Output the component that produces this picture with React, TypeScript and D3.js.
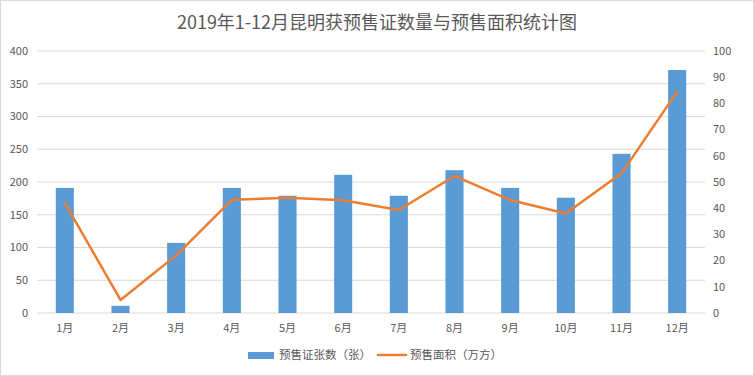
import React from "react";
import * as d3 from "d3";

const months = ["1月", "2月", "3月", "4月", "5月", "6月", "7月", "8月", "9月", "10月", "11月", "12月"];
const permits = [191, 11, 107, 191, 179, 211, 179, 218, 191, 176, 243, 371];
const areas = [42, 5, 22, 43.2, 44, 43, 39.3, 52.3, 43.1, 38, 53.3, 84.5];
const leftTicks = [0, 50, 100, 150, 200, 250, 300, 350, 400];
const rightTicks = [0, 10, 20, 30, 40, 50, 60, 70, 80, 90, 100];
const title = "2019年1-12月昆明获预售证数量与预售面积统计图";
const seriesNames = ["预售证张数（张）", "预售面积（万方）"];

const W = 754;
const H = 376;
const left = 37;
const right = 705;
const top = 51;
const bottom = 313;
const FONT = "'Noto Sans CJK SC', 'Noto Sans', sans-serif";
const TXT = "#595959";

export default function App() {
  const x = d3.scaleBand<string>().domain(months).range([left, right]).paddingInner(0).paddingOuter(0);
  const yL = d3.scaleLinear().domain([0, 400]).range([bottom, top]);
  const yR = d3.scaleLinear().domain([0, 100]).range([bottom, top]);
  const barW = x.bandwidth() * 0.325;
  const line = d3
    .line<number>()
    .x((_, i) => (x(months[i]) as number) + x.bandwidth() / 2)
    .y((d) => yR(d));

  return (
    <svg
      width={W}
      height={H}
      style={{ position: "absolute", left: 0, top: 0, background: "#fff" }}
      fontFamily={FONT}
    >
      <rect x={0.5} y={0.5} width={W - 1} height={H - 1} fill="#fff" stroke="#d9d9d9" />
      <text x={W / 2} y={29} textAnchor="middle" fontSize={18} fill={TXT}>
        {title}
      </text>
      {leftTicks.map((t) => (
        <g key={"l" + t}>
          <line x1={left} x2={right} y1={yL(t)} y2={yL(t)} stroke="#d9d9d9" strokeWidth={1} />
          <text x={28} y={yL(t)} dy="0.35em" textAnchor="end" fontSize={11} fill={TXT}>
            {t}
          </text>
        </g>
      ))}
      {rightTicks.map((t) => (
        <text key={"r" + t} x={713} y={yR(t)} dy="0.35em" textAnchor="start" fontSize={11} fill={TXT}>
          {t}
        </text>
      ))}
      {permits.map((v, i) => (
        <rect
          key={"b" + i}
          x={(x(months[i]) as number) + x.bandwidth() / 2 - barW / 2}
          y={yL(v)}
          width={barW}
          height={yL(0) - yL(v)}
          fill="#5b9bd5"
        />
      ))}
      <path d={line(areas) || ""} fill="none" stroke="#ed7d31" strokeWidth={2.5} strokeLinejoin="round" strokeLinecap="round" />
      {months.map((m) => (
        <text
          key={"m" + m}
          x={(x(m) as number) + x.bandwidth() / 2}
          y={328}
          dy="0.35em"
          textAnchor="middle"
          fontSize={11}
          fill={TXT}
        >
          {m}
        </text>
      ))}
      <rect x={248} y={352} width={26} height={7} fill="#5b9bd5" />
      <text x={279} y={355} dy="0.35em" fontSize={11.5} fill={TXT}>
        {seriesNames[0]}
      </text>
      <line x1={378} x2={406} y1={355} y2={355} stroke="#ed7d31" strokeWidth={2.5} strokeLinecap="round" />
      <text x={410} y={355} dy="0.35em" fontSize={11.5} fill={TXT}>
        {seriesNames[1]}
      </text>
    </svg>
  );
}
